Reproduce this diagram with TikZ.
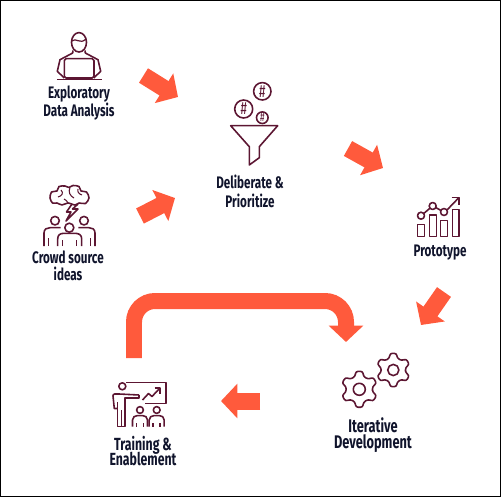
\documentclass[tikz,border=0pt]{standalone}
\usepackage{fontspec}
\usepackage{tikz}
\usetikzlibrary{arrows.meta}
\newfontfamily\lblfont[FakeStretch=0.7]{Fira Sans}
\definecolor{FlowRed}{RGB}{255,90,60}
\definecolor{IconWine}{RGB}{92,22,50}
\definecolor{LblInk}{RGB}{16,20,44}
\newcommand{\tightlines}{\setlength{\lineskiplimit}{-10pt}}

% gear: centre x, centre y, outer radius, root radius, hole radius
\newcommand{\drawgear}[5]{
  \begin{scope}[shift={(#1,#2)}]
    \draw[icon, rounded corners=1.3pt] (12:#4)
      \foreach \a in {30,90,...,330} {
        -- ({\a-18}:#4) -- ({\a-11}:#3) -- ({\a+11}:#3) -- ({\a+18}:#4)
      } -- cycle;
    \draw[icon] (0,0) circle (#5);
  \end{scope}
}

\begin{document}
\begin{tikzpicture}[
      x=0.02cm, y=-0.02cm,
      icon/.style={draw=IconWine, line width=0.9pt, line join=round},
      lbl/.style 2 args={font=\lblfont\bfseries\fontsize{#1}{#2}\selectfont\tightlines,
                  text=LblInk, align=center, inner sep=0pt},
      flow/.style={draw=FlowRed, line width=0.34cm,
                   -{Triangle[length=0.33cm, width=0.68cm, fill=FlowRed]}},
      hash/.style={font=\lblfont\fontsize{#1}{#1}\selectfont, text=IconWine, inner sep=0pt}
    ]
    \useasboundingbox (0,0) rectangle (501,497);
    \draw[black, line width=0.6pt] (0.5,0.5) rectangle (500.5,496.5);

    % Labels
    \node[lbl={9.5}{10.4}] (eda) at (79,103) {Exploratory\\Data Analysis};
    \node[lbl={9.5}{9.7}] (crowd) at (68,266) {Crowd source\\ideas};
    \node[lbl={9.5}{10.8}] (delib) at (250,191) {Deliberate \&\\Prioritize};
    \node[lbl={9.5}{10}] (proto) at (440,253) {Prototype};
    \node[lbl={10.4}{9.2}] (iter) at (373,435) {Iterative\\Development};
    \node[lbl={10}{8.8}] (train) at (143,451) {Training \&\\Enablement};

    % Flow arrow ends
    \coordinate (edaout) at (143.5,75.5);
    \coordinate (edain) at (178,97);
    \coordinate (crowdout) at (140,216);
    \coordinate (crowdin) at (175,198);
    \coordinate (delibout) at (348,148.5);
    \coordinate (delibin) at (383,168);
    \coordinate (protoout) at (444,292);
    \coordinate (protoin) at (421,325);
    \coordinate (iterout) at (260,401);
    \coordinate (iterin) at (221,401);
    \coordinate (loopout) at (134,358);
    \coordinate (looptop) at (240,301);
    \coordinate (loopin) at (346,342);

    \draw[flow] (edaout) -- (edain);
    \draw[flow] (crowdout) -- (crowdin);
    \draw[flow] (delibout) -- (delibin);
    \draw[flow] (protoout) -- (protoin);
    \draw[flow] (iterout) -- (iterin);
    \draw[flow, line width=0.32cm, rounded corners=0.42cm]
      (loopout) |- (looptop) -| (loopin);

    % Person at laptop
    \draw[icon] (79,42.3) ellipse (7.5 and 9.7);
    \draw[icon, line width=0.7pt] (71.7,41) .. controls (76,37) and (80,45) .. (86,39);
    \draw[icon] (73,50.5) -- (72.7,53) -- (60,59.7) -- (57.3,71.3) -- (64.3,78);
    \draw[icon] (85,50.5) -- (85.3,53) -- (98,59.7) -- (100.7,71.3) -- (93.7,78);
    \draw[icon, rounded corners=1pt] (64.3,78) rectangle (94,58.7);
    \draw[icon] (57.3,79.7) -- (101.7,79.7);

    % Brain cloud and crowd
    \draw[icon] plot[smooth cycle, tension=0.5] coordinates {(50,198) (51.5,192) (57,191)
      (59,186.5) (65,186) (69,187.5) (73,185.5) (79,186.5) (81,191) (86.5,192) (89,198)
      (85.5,203.5) (79,203) (75,205) (68,203) (62,205) (57,203) (52.5,203)};
    \draw[icon, line width=0.6pt] (61,190) .. controls (64,193) and (62,196) .. (58,197);
    \draw[icon, line width=0.6pt] (70,187.5) .. controls (68,192) and (70,196) .. (74,198);
    \draw[icon, line width=0.6pt] (78,189) .. controls (77,192) and (79,194) .. (82,195);
    \draw[icon, line width=0.6pt] (64,199) .. controls (66,200) and (67,201) .. (68,203);
    \draw[icon] (72,204) -- (66.5,212) -- (71,212) -- (66,221) -- (78,209) -- (72.5,209) -- (78,204);
    \foreach \x/\y/\r in {55/220.7/4.3, 84/220.7/4.3, 69.3/227.7/4.5} {
      \draw[icon] (\x,\y) circle (\r);
    }
    \draw[icon] (44,246) -- (44,233) .. controls (44,229) and (47,227.7) .. (50,227.7) -- (60.7,227.7);
    \draw[icon] (95,246) -- (95,233) .. controls (95,229) and (92,227.7) .. (89,227.7) -- (78.3,227.7);
    \draw[icon] (48.3,246) -- (48.3,238);
    \draw[icon] (90.7,246) -- (90.7,238);
    \draw[icon] (57.7,246) -- (57.7,239) .. controls (57.7,235) and (60,233.3) .. (64,233.3) -- (75,233.3)
      .. controls (79,233.3) and (81.7,235) .. (81.7,239) -- (81.7,246);
    \draw[icon] (62.3,246) -- (62.3,240);
    \draw[icon] (76.7,246) -- (76.7,240);

    % Funnel with hashes
    \draw[icon] (230.7,125.7) -- (277.7,125.7) -- (259.3,146.7) -- (259.3,157.7)
      -- (249.3,165) -- (249.3,146.7) -- cycle;
    \foreach \n/\x/\y/\r/\s in {ha/262.3/91.3/8.7/10, hb/243.7/109/9/10, hc/262.3/117.7/5.8/7} {
      \draw[icon] (\x,\y) circle (\r);
      \node[hash=\s] (\n) at (\x,\y) {\#};
    }

    % Bar chart
    \foreach \xa/\ya/\xb in {417.7/224.3/424.3, 429.3/215/436.3, 440.7/220.7/447.3, 452.3/209.3/459} {
      \draw[icon] (\xa,\ya) rectangle (\xb,236.7);
    }
    \draw[icon] (423.7,213.5) -- (430,208.2);
    \draw[icon] (435.7,207.5) -- (441,210.5);
    \draw[icon] (447,210) -- (459,197.5);
    \draw[icon] (451.7,197.5) -- (459,197.5) -- (459,204.5);
    \foreach \x/\y in {421/215.7, 432.7/206, 444/212} {
      \draw[icon] (\x,\y) circle (3.5);
    }

    % Gears
    \drawgear{359.3}{389.3}{18.3}{13.5}{6}
    \drawgear{393.3}{370}{17}{12.5}{5.6}

    % Trainer at board with two students
    \draw[icon] (126,382.7) -- (166,382.7) -- (166,403.3) -- (145,403.3);
    \draw[icon] (122.3,386.3) circle (3.5);
    \draw[icon] (139,395) -- (119,394) -- (114.5,394) .. controls (113.5,394) and (113,395) .. (113,396)
      -- (114.3,408.5) -- (117.5,408.5);
    \draw[icon] (139,395) -- (139,398) -- (125,398) -- (125,426.7) -- (117.5,426.7) -- (117.5,402);
    \draw[icon] (121.3,426.7) -- (121.3,410);
    \draw[icon] (142.5,400) -- (148.5,393.5) -- (152,396.5) -- (160,388);
    \draw[icon] (154.5,388) -- (160,388) -- (160,393.5);
    \foreach \x in {140,156.7} {
      \draw[icon] (\x,410) circle (3.4);
      \draw[icon] ({\x-7.5},426.7) -- ({\x-7.5},420) .. controls ({\x-7.5},417) and ({\x-5},415.7) .. ({\x-3},415.7)
        -- ({\x+3},415.7) .. controls ({\x+5},415.7) and ({\x+7.5},417) .. ({\x+7.5},420) -- ({\x+7.5},426.7);
      \draw[icon] ({\x-3.5},426.7) -- ({\x-3.5},423);
      \draw[icon] ({\x+3.5},426.7) -- ({\x+3.5},423);
    }
  \end{tikzpicture}
\end{document}
